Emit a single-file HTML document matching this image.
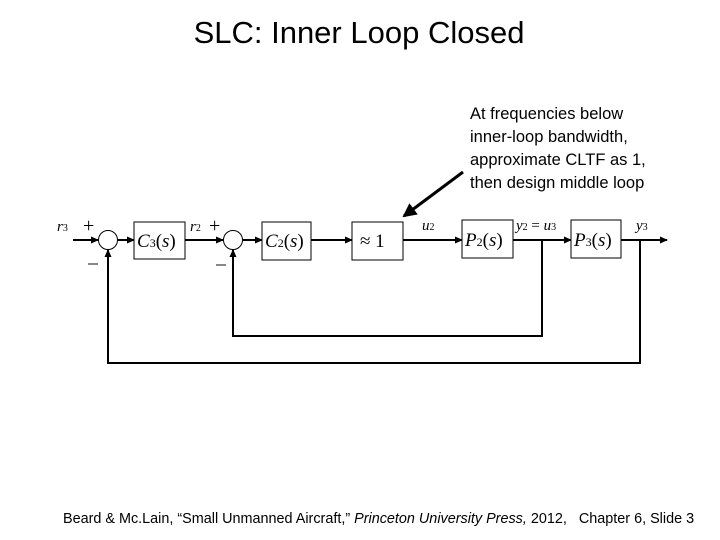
<!DOCTYPE html>
<html><head><style>
body{margin:0;width:720px;height:540px;background:#fff;position:relative;overflow:hidden;font-family:"Liberation Sans",sans-serif}
.t{position:absolute;white-space:nowrap}
</style></head><body>
<div class="t" style="left:0;width:718px;top:15px;text-align:center;font-size:31px;">SLC: Inner Loop Closed</div>
<div class="t" style="left:470px;top:103px;font-size:16.5px;line-height:23px;">At frequencies below<br>inner-loop bandwidth,<br>approximate CLTF as 1,<br>then design middle loop</div>
<svg width="720" height="540" style="position:absolute;left:0;top:0" font-family="Liberation Serif, serif" font-style="italic">
<defs><marker id="a" markerWidth="8" markerHeight="8" refX="7" refY="4" orient="auto" markerUnits="userSpaceOnUse"><path d="M0,0.5 L8,4 L0,7.5z" fill="#000"/></marker>
<marker id="b" markerWidth="14" markerHeight="14" refX="12" refY="7" orient="auto" markerUnits="userSpaceOnUse"><path d="M0,0 L14,7 L0,14z" fill="#000"/></marker></defs>
<g stroke="#000" stroke-width="2" fill="none">
<line x1="73" y1="240" x2="98" y2="240" marker-end="url(#a)"/>
<circle cx="108" cy="240" r="9.5" stroke-width="1"/>
<line x1="118" y1="240" x2="134" y2="240" marker-end="url(#a)"/>
<line x1="185" y1="240" x2="223" y2="240" marker-end="url(#a)"/>
<circle cx="233" cy="240" r="9.5" stroke-width="1"/>
<line x1="243" y1="240" x2="262" y2="240" marker-end="url(#a)"/>
<line x1="311" y1="240" x2="352" y2="240" marker-end="url(#a)"/>
<line x1="403" y1="240" x2="462" y2="240" marker-end="url(#a)"/>
<line x1="513" y1="240" x2="571" y2="240" marker-end="url(#a)"/>
<line x1="621" y1="240" x2="667" y2="240" marker-end="url(#a)"/>
<polyline points="542,240 542,336 233,336 233,250" marker-end="url(#a)"/>
<polyline points="640,240 640,363 108,363 108,250" marker-end="url(#a)"/>
<line x1="463" y1="172" x2="404" y2="216" stroke-width="3" marker-end="url(#b)"/>
</g>
<g stroke="#000" stroke-width="1" fill="#fff">
<rect x="134" y="222" width="51" height="37"/>
<rect x="262" y="222" width="49" height="38"/>
<rect x="352" y="222" width="51" height="38"/>
<rect x="462" y="220" width="51" height="38"/>
<rect x="571" y="220" width="50" height="38"/>
</g>
<g font-size="19" fill="#000">
<text x="137" y="247">C<tspan font-size="12" font-style="normal">3</tspan><tspan font-style="normal">(</tspan>s<tspan font-style="normal">)</tspan></text>
<text x="265" y="247">C<tspan font-size="12" font-style="normal">2</tspan><tspan font-style="normal">(</tspan>s<tspan font-style="normal">)</tspan></text>
<text x="360" y="247" font-style="normal">≈ 1</text>
<text x="465" y="246">P<tspan font-size="12" font-style="normal">2</tspan><tspan font-style="normal">(</tspan>s<tspan font-style="normal">)</tspan></text>
<text x="574" y="246">P<tspan font-size="12" font-style="normal">3</tspan><tspan font-style="normal">(</tspan>s<tspan font-style="normal">)</tspan></text>
</g>
<g font-size="15" fill="#000">
<text x="57" y="231">r<tspan font-size="10" font-style="normal">3</tspan></text>
<text x="190" y="231">r<tspan font-size="10" font-style="normal">2</tspan></text>
<text x="422" y="230">u<tspan font-size="10" font-style="normal">2</tspan></text>
<text x="516" y="230">y<tspan font-size="10" font-style="normal">2</tspan><tspan font-style="normal"> = </tspan>u<tspan font-size="10" font-style="normal">3</tspan></text>
<text x="636" y="230">y<tspan font-size="10" font-style="normal">3</tspan></text>
<text x="83" y="232" font-style="normal" font-size="20">+</text>
<text x="209" y="232" font-style="normal" font-size="20">+</text>
</g>
<rect x="88" y="263" width="10" height="2" fill="#888"/>
<rect x="216" y="264" width="10" height="2" fill="#888"/>
</svg>
<div class="t" style="left:63px;top:511px;font-size:14.4px;">Beard &amp; Mc.Lain, “Small Unmanned Aircraft,” <i>Princeton University Press,</i> 2012,&nbsp;&nbsp; Chapter 6, Slide 3</div>
</body></html>
